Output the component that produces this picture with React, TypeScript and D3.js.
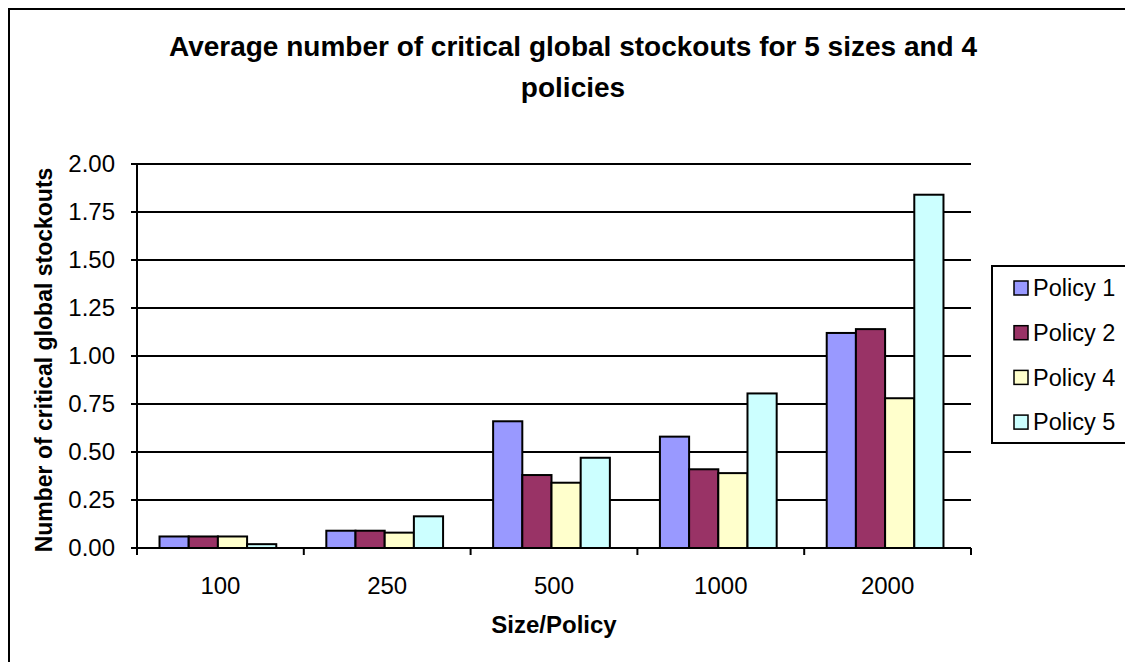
import React from 'react'
import * as d3 from 'd3'

const sizes = ['100', '250', '500', '1000', '2000']
const policies = ['Policy 1', 'Policy 2', 'Policy 4', 'Policy 5']
const policy1 = [0.06, 0.09, 0.66, 0.58, 1.12]
const policy2 = [0.06, 0.09, 0.38, 0.41, 1.14]
const policy4 = [0.06, 0.08, 0.34, 0.39, 0.78]
const policy5 = [0.02, 0.165, 0.47, 0.805, 1.84]
const yTicks = [0, 0.25, 0.5, 0.75, 1, 1.25, 1.5, 1.75, 2]
const colors = ['#9999ff', '#993366', '#ffffcc', '#ccffff']

const series = [policy1, policy2, policy4, policy5]

export default function App() {
  const W = 1125
  const H = 654
  const plot = {left: 129, right: 963, top: 156, bottom: 540}

  const x0 = d3.scaleBand().domain(sizes).range([plot.left, plot.right])
  const gap = x0.bandwidth() * 0.6 / 2 / 2
  const x1 = d3
    .scaleBand()
    .domain(policies)
    .range([gap * 0.9, x0.bandwidth() - gap * 1.1])
  const y = d3.scaleLinear().domain([0, 2]).range([plot.bottom, plot.top])

  const font = 'Arial, "Liberation Sans", sans-serif'

  return (
    <svg width={W} height={H} style={{display: 'block'}} fontFamily={font}>
      <rect x={1} y={1} width={W + 50} height={H + 50} fill="#fff" stroke="#000" strokeWidth={2} />
      <text x={565} y={48} textAnchor="middle" fontSize={28} fontWeight="bold">
        Average number of critical global stockouts for 5 sizes and 4
      </text>
      <text x={565} y={89} textAnchor="middle" fontSize={28} fontWeight="bold">
        policies
      </text>

      {/* gridlines + y ticks */}
      {yTicks.map(t => (
        <g key={t}>
          <line x1={plot.left - 6} x2={plot.right} y1={y(t)} y2={y(t)} stroke="#000" strokeWidth={2} />
          <text x={107} y={y(t)} dy="0.35em" textAnchor="end" fontSize={24}>
            {t.toFixed(2)}
          </text>
        </g>
      ))}

      {/* bars */}
      {sizes.map((s, i) => (
        <g key={s} transform={`translate(${x0(s)},0)`}>
          {series.map((vals, j) => (
            <rect
              key={j}
              x={x1(policies[j])}
              y={y(vals[i])}
              width={x1.bandwidth()}
              height={y(0) - y(vals[i])}
              fill={colors[j]}
              stroke="#000"
              strokeWidth={2}
            />
          ))}
        </g>
      ))}

      {/* axes */}
      <line x1={plot.left} x2={plot.left} y1={plot.top} y2={plot.bottom} stroke="#000" strokeWidth={2} />
      <line x1={plot.left} x2={plot.right} y1={plot.bottom} y2={plot.bottom} stroke="#000" strokeWidth={2} />
      {[...sizes.map(s => x0(s)), plot.right].map((v, i) => (
        <line key={i} x1={v} x2={v} y1={plot.bottom} y2={plot.bottom + 7} stroke="#000" strokeWidth={2} />
      ))}
      {sizes.map(s => (
        <text key={s} x={x0(s) + x0.bandwidth() / 2} y={586} textAnchor="middle" fontSize={24}>
          {s}
        </text>
      ))}

      <text x={546} y={625} textAnchor="middle" fontSize={24} fontWeight="bold">
        Size/Policy
      </text>
      <text
        transform={`translate(36,${(plot.top + plot.bottom) / 2 + 4}) rotate(-90)`}
        textAnchor="middle"
        dy="0.35em"
        fontSize={23}
        fontWeight="bold"
      >
        Number of critical global stockouts
      </text>

      {/* legend */}
      <g transform="translate(984,258)">
        <rect x={0} y={0} width={138} height={177} fill="#fff" stroke="#000" strokeWidth={2} />
        {policies.map((p, i) => (
          <g key={p} transform={`translate(0,${22 + i * 44.7})`}>
            <rect x={22} y={-7} width={14} height={14} fill={colors[i]} stroke="#000" strokeWidth={1.5} />
            <text x={41} y={0} dy="0.35em" fontSize={23.5}>
              {p}
            </text>
          </g>
        ))}
      </g>
    </svg>
  )
}
